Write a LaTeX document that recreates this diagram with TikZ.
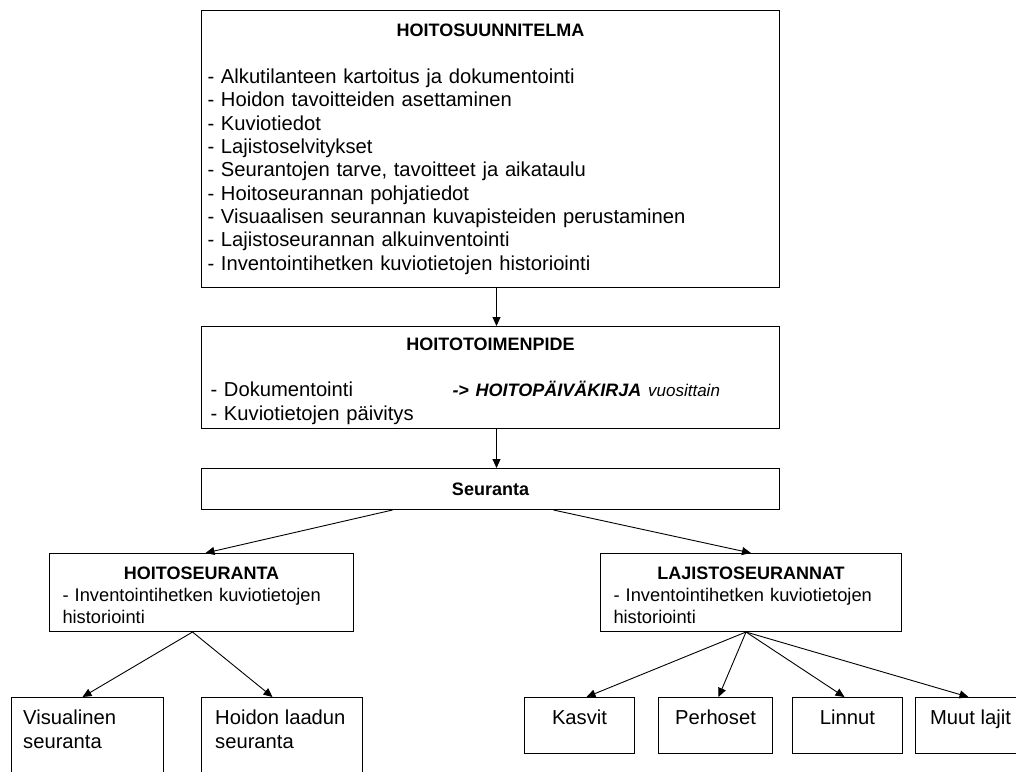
\documentclass[tikz,border=0pt]{standalone}
\usepackage{fontspec}
\setmainfont{Liberation Sans}
\usetikzlibrary{arrows.meta}

\newcommand{\boxtitle}[1]{\makebox[\linewidth]{\fontsize{18}{21}\selectfont\bfseries #1}}

\begin{document}
\begin{tikzpicture}[x=1pt,y=-1pt,
    box/.style={draw,line width=1pt,inner sep=0pt,anchor=north west},
    body/.style={font=\fontsize{20.2}{23.3}\selectfont},
    small/.style={font=\fontsize{18.3}{22}\selectfont},
    arr/.style={-{Triangle[length=9pt,width=8pt]},line width=0.9pt}]

    \useasboundingbox (0,0) rectangle (1016,771);
    \clip (0,0) rectangle (1016,771);

    % main chain
    \node[box,body,minimum width=578pt,minimum height=277pt,text width=566pt,align=left] (plan) at (201,10)
        {\boxtitle{HOITOSUUNNITELMA}\\[24pt]
         - Alkutilanteen kartoitus ja dokumentointi\\
         - Hoidon tavoitteiden asettaminen\\
         - Kuviotiedot\\
         - Lajistoselvitykset\\
         - Seurantojen tarve, tavoitteet ja aikataulu\\
         - Hoitoseurannan pohjatiedot\\
         - Visuaalisen seurannan kuvapisteiden perustaminen\\
         - Lajistoseurannan alkuinventointi\\
         - Inventointihetken kuviotietojen historiointi};
    \node[box,body,minimum width=578pt,minimum height=102pt,text width=560pt,align=left] (act) at (201,326)
        {\rule{0pt}{20pt}\boxtitle{HOITOTOIMENPIDE}\\[23pt]
         \makebox[242pt][l]{- Dokumentointi}{\fontsize{18}{21}\selectfont\bfseries\itshape -> HOITOPÄIVÄKIRJA} {\fontsize{17}{21}\selectfont\itshape vuosittain}\\
         - Kuviotietojen päivitys};
    \node[box,minimum width=578pt,minimum height=41pt,font=\fontsize{18}{21}\selectfont\bfseries] (seu) at (201,468) {Seuranta};

    % seurannat
    \node[box,small,minimum width=304pt,minimum height=78pt,text width=278pt,align=left] (hs) at (49,553)
        {\rule{0pt}{19pt}\boxtitle{HOITOSEURANTA}\\- Inventointihetken kuviotietojen\\historiointi};
    \node[box,small,minimum width=301pt,minimum height=78pt,text width=275pt,align=left] (ls) at (600,553)
        {\rule{0pt}{19pt}\boxtitle{LAJISTOSEURANNAT}\\- Inventointihetken kuviotietojen\\historiointi};

    % bottom row
    \node[box,minimum width=152pt,minimum height=100pt] (vis) at (11,697) {};
    \node[box,minimum width=161pt,minimum height=100pt] (hla) at (201,697) {};
    \node[box,minimum width=110pt,minimum height=56pt] (kas) at (524,697) {};
    \node[box,minimum width=114pt,minimum height=56pt] (per) at (658,697) {};
    \node[box,minimum width=110pt,minimum height=56pt] (lin) at (792,697) {};
    \node[box,minimum width=110pt,minimum height=56pt] (muu) at (915,697) {};

    \node[body,anchor=north west,align=left,inner sep=0pt] (vis-t) at ([xshift=12pt,yshift=-13pt]vis.north west) {Visualinen\\seuranta};
    \node[body,anchor=north west,align=left,inner sep=0pt] (hla-t) at ([xshift=14pt,yshift=-13pt]hla.north west) {Hoidon laadun\\seuranta};
    \node[body,anchor=base,inner sep=0pt] (kas-t) at ([yshift=-27pt]kas.north) {Kasvit};
    \node[body,anchor=base,inner sep=0pt] (per-t) at ([yshift=-27pt]per.north) {Perhoset};
    \node[body,anchor=base,inner sep=0pt] (lin-t) at ([yshift=-27pt]lin.north) {Linnut};
    \node[body,anchor=base,inner sep=0pt] (muu-t) at ([yshift=-27pt]muu.north) {Muut lajit};

    % arrows
    \draw[arr] ([xshift=6pt]plan.south) -- ([xshift=6pt]act.north);
    \draw[arr] ([xshift=6pt]act.south) -- ([xshift=6pt]seu.north);
    \draw[arr] ([xshift=-98pt]seu.south) -- ([xshift=4pt]hs.north);
    \draw[arr] ([xshift=63pt]seu.south) -- (ls.north);
    \draw[arr] ([xshift=-9pt]hs.south) -- ([xshift=-5pt]vis.north);
    \draw[arr] ([xshift=-9pt]hs.south) -- ([xshift=-9.5pt]hla.north);
    \draw[arr] ([xshift=-5pt]ls.south) -- ([xshift=7pt]kas.north);
    \draw[arr] ([xshift=-5pt]ls.south) -- ([xshift=3pt]per.north);
    \draw[arr] ([xshift=-5pt]ls.south) -- ([xshift=-3pt]lin.north);
    \draw[arr] ([xshift=-5pt]ls.south) -- ([xshift=-2pt]muu.north);

\end{tikzpicture}
\end{document}
